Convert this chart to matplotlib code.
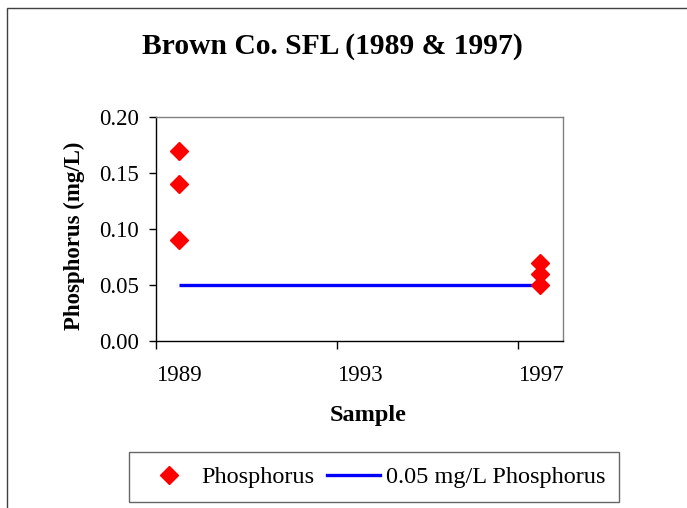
import matplotlib
matplotlib.use("Agg")
import matplotlib.pyplot as plt
from matplotlib.patches import Rectangle
from matplotlib.lines import Line2D

# Data
years_1989 = [1989, 1989, 1989]
phos_1989 = [0.17, 0.14, 0.09]
years_1997 = [1997, 1997, 1997]
phos_1997 = [0.07, 0.06, 0.05]
std_x = [1989, 1997]
std_y = [0.05, 0.05]
xtick_labels = ["1989", "1993", "1997"]
xtick_label_pos = [1989, 1993, 1997]
yticks = [0.00, 0.05, 0.10, 0.15, 0.20]

plt.rcParams['font.family'] = ['Liberation Serif', 'DejaVu Serif']

W, H = 687, 508
fig = plt.figure(figsize=(W/100, H/100), dpi=100)
fig.patch.set_facecolor('white')

# outer chart border
fig.patches.append(Rectangle((7/W, -0.1), 1.2, 1 - 8/H + 0.1, transform=fig.transFigure,
                             fill=False, edgecolor='#404040', lw=1.0))

ax = fig.add_axes([156/W, 1 - 341/H, (563-156)/W, (341-117)/H])

ax.plot(std_x, std_y, color='#0000FF', lw=2.4, solid_capstyle='butt', zorder=2,
        label='0.05 mg/L Phosphorus')
ax.plot(years_1989 + years_1997, phos_1989 + phos_1997, linestyle='none', marker='D',
        color='#FF0000', ms=9, mec='#FF0000', zorder=3, label='Phosphorus')

ax.set_xlim(1988.5, 1997.5)
ax.set_ylim(0, 0.20)
ax.set_yticks(yticks)
ax.set_yticklabels([f"{v:.2f}" for v in yticks])

major = [1988.5, 1992.5, 1996.5]
ax.set_xticks(major)
ax.set_xticklabels([])
ax.set_xticks(xtick_label_pos, minor=True)
ax.set_xticklabels(xtick_labels, minor=True)
ax.tick_params(axis='x', which='major', direction='out', length=6, width=1, color='black')
ax.tick_params(axis='x', which='minor', length=0, pad=17, labelsize=16.5)
ax.tick_params(axis='y', direction='out', length=5, width=1, color='black', labelsize=16.5, pad=7)

for s in ['left', 'bottom']:
    ax.spines[s].set_color('black')
    ax.spines[s].set_linewidth(1.0)
for s in ['top', 'right']:
    ax.spines[s].set_color('#808080')
    ax.spines[s].set_linewidth(1.0)

fig.text(332/W, 1 - 46/H, "Brown Co. SFL (1989 & 1997)", ha='center', va='center',
         fontsize=21.3, fontweight='bold')
fig.text(74/W, 1 - 236/H, "Phosphorus (mg/L)", ha='center', va='center', rotation=90,
         fontsize=16.5, fontweight='bold')
fig.text(368/W, 1 - 415/H, "Sample", ha='center', va='center',
         fontsize=17.5, fontweight='bold')

handles = [Line2D([], [], linestyle='none', marker='D', color='#FF0000', ms=9),
           Line2D([], [], color='#0000FF', lw=2.4)]
leg = fig.legend(handles, ['Phosphorus', '0.05 mg/L Phosphorus'], ncol=2,
                 loc='center', bbox_to_anchor=(374/W, 1 - 477/H), frameon=True,
                 fancybox=False, fontsize=17.5, handlelength=2.18, columnspacing=0.55,
                 handletextpad=0.22, borderpad=0.58)
leg.get_frame().set_edgecolor('#404040')
leg.get_frame().set_linewidth(1.0)

fig.savefig("out.png", dpi=100, facecolor='white')
